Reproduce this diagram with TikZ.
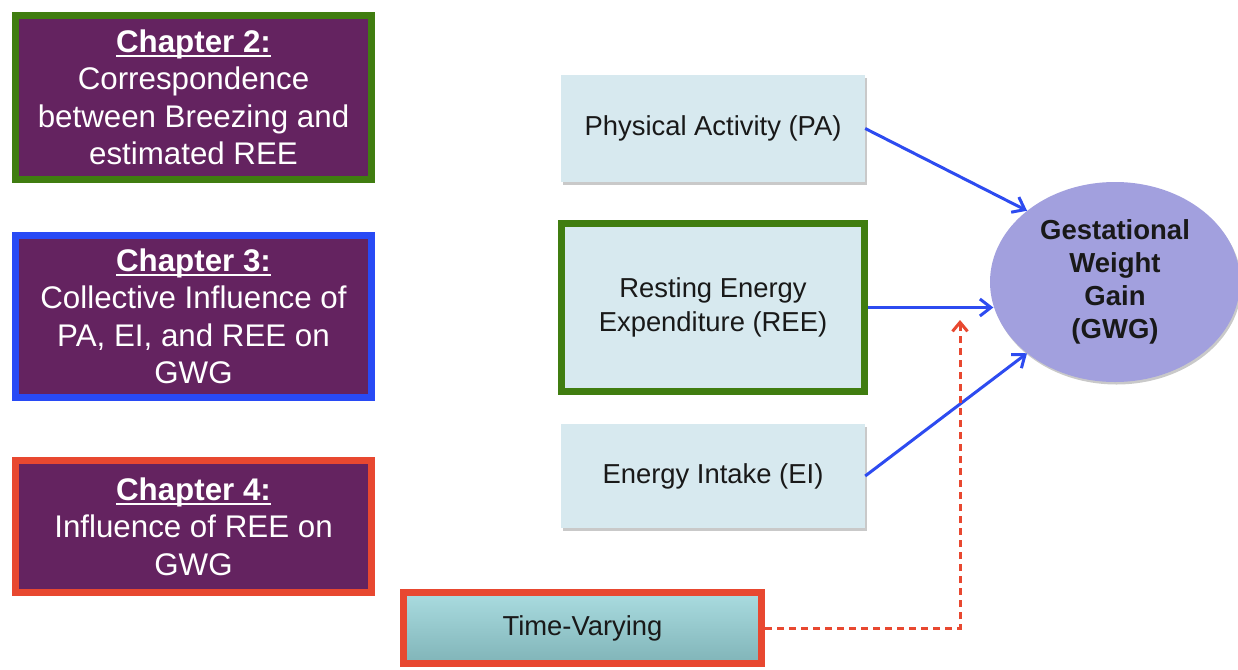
\documentclass[tikz,border=0pt]{standalone}
\usepackage{fontspec}
\setmainfont{Liberation Sans}
\usetikzlibrary{arrows.meta,shapes.geometric,shadows}
\definecolor{chpurple}{RGB}{100,35,96}
\definecolor{chgreen}{RGB}{64,125,16}
\definecolor{chblue}{RGB}{40,74,245}
\definecolor{chred}{RGB}{232,72,48}
\definecolor{varfill}{RGB}{215,233,239}
\definecolor{gwgfill}{RGB}{162,160,222}
\definecolor{arrowblue}{RGB}{45,75,240}
\definecolor{tvtop}{RGB}{170,220,224}
\definecolor{tvbottom}{RGB}{128,180,184}
\newcommand\chapul[1]{\setbox0\hbox{#1}\rlap{\rule[-5pt]{\wd0}{2.6pt}}\box0}
\begin{document}
\begin{tikzpicture}[x=1pt,y=-1pt,
  shadowed/.style={drop shadow={shadow xshift=1.5pt,shadow yshift=-2.5pt,opacity=0.3,fill=black!70}},
  chapbox/.style={draw, line width=7pt, fill=chpurple, text=white, align=center, inner sep=0pt,
    minimum width=356pt, font=\fontsize{31.3}{37.5}\selectfont, shadowed},
  varbox/.style={fill=varfill, text=black!90, align=center, inner sep=0pt,
    minimum width=304pt, font=\fontsize{27.4}{34}\selectfont, shadowed},
  link/.style={draw=arrowblue, line width=3pt, -{Straight Barb[length=11pt,width=17pt,line width=3pt]}},
  timelink/.style={draw=chred, line width=3pt, dash pattern=on 7pt off 5pt, -{Straight Barb[length=9pt,width=15pt,line width=3pt]}}
]
\useasboundingbox (0,0) rectangle (1238,669);

% chapter boxes
\node[chapbox, draw=chgreen, minimum height=164pt] (ch2) at (193.5,97.5)
  {\chapul{\textbf{Chapter 2:}}\\Correspondence\\between Breezing and\\estimated REE};
\node[chapbox, draw=chblue, minimum height=162pt] (ch3) at (193.5,316.5)
  {\chapul{\textbf{Chapter 3:}}\\Collective Influence of\\PA, EI, and REE on\\GWG};
\node[chapbox, draw=chred, minimum height=132pt] (ch4) at (193.5,526.5)
  {\chapul{\textbf{Chapter 4:}}\\Influence of REE on\\GWG};

% variable boxes
\node[varbox, minimum height=107pt] (pa) at (713,128.5) {Physical Activity (PA)};
\node[varbox, draw=chgreen, line width=7pt, minimum width=303pt, minimum height=168pt] (ree) at (713,307.5)
  {Resting Energy\\Expenditure (REE)};
\node[varbox, minimum height=104pt] (ei) at (713,476) {Energy Intake (EI)};

% time varying
\node[draw=chred, line width=7pt, top color=tvtop, bottom color=tvbottom, text=black!90,
  inner sep=0pt, minimum width=358pt, minimum height=71pt,
  font=\fontsize{27.4}{34}\selectfont, shadowed] (tv) at (582.5,628) {Time-Varying};

% outcome
\node[ellipse, fill=gwgfill, inner sep=0pt, minimum width=250pt, minimum height=200pt,
  align=center, font=\fontsize{27.5}{33}\selectfont\bfseries, text=black!90, shadowed] (gwg) at (1115,282)
  {Gestational\\Weight\\Gain\\(GWG)};

% connectors
\draw[link] (pa.east) -- (gwg.141);
\draw[link] (ree.east) -- (ree.east -| gwg.191);
\draw[link] (ei.east) -- (gwg.219);
\coordinate (tvtip) at (960,320);
\draw[timelink] (tv.east) -| (tvtip);
\end{tikzpicture}
\end{document}
